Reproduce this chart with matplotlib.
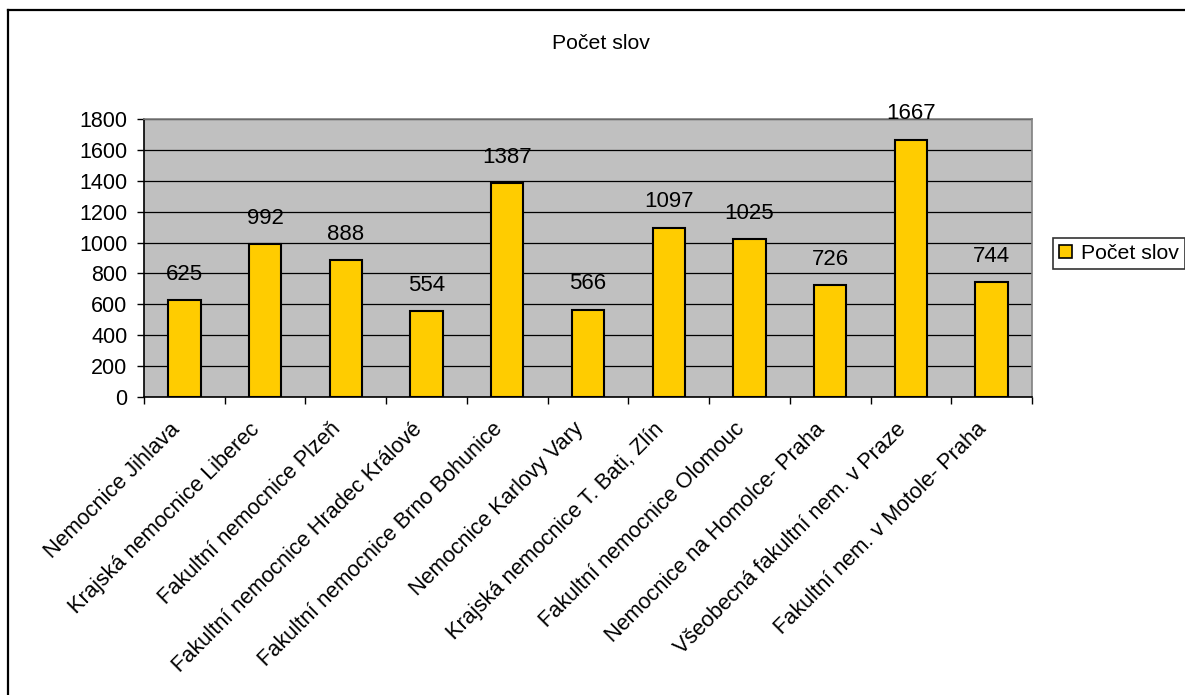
import matplotlib
matplotlib.use("Agg")
import matplotlib.pyplot as plt
import matplotlib.transforms as mtransforms
from matplotlib.lines import Line2D
from matplotlib.patches import Patch

plt.rcParams["font.family"] = ["Liberation Sans", "DejaVu Sans"]

title = "Počet slov"
series_name = "Počet slov"
hospitals = [
    "Nemocnice Jihlava",
    "Krajská nemocnice Liberec",
    "Fakultní nemocnice Plzeň",
    "Fakultní nemocnice Hradec Králové",
    "Fakultní nemocnice Brno Bohunice",
    "Nemocnice Karlovy Vary",
    "Krajská nemocnice T. Bati, Zlín",
    "Fakultní nemocnice Olomouc",
    "Nemocnice na Homolce- Praha",
    "Všeobecná fakultní nem. v Praze",
    "Fakultní nem. v Motole- Praha",
]
word_counts = [625, 992, 888, 554, 1387, 566, 1097, 1025, 726, 1667, 744]
y_ticks = [0, 200, 400, 600, 800, 1000, 1200, 1400, 1600, 1800]

W, H = 1185, 695
fig = plt.figure(figsize=(W / 100, H / 100), dpi=100)
fig.patch.set_facecolor("white")

# outer chart frame (runs off the right and bottom edges)
fig.add_artist(Line2D([8 / W, 1.0], [1 - 9.5 / H, 1 - 9.5 / H], color="black", lw=1.6,
                      transform=fig.transFigure))
fig.add_artist(Line2D([7.5 / W, 7.5 / W], [0.0, 1 - 9.5 / H], color="black", lw=1.6,
                      transform=fig.transFigure))

ax = fig.add_axes([144 / W, 1 - 397 / H, (1032 - 144) / W, (397 - 119) / H])
ax.set_facecolor("#C0C0C0")

x = list(range(len(hospitals)))
ax.set_axisbelow(True)
ax.yaxis.grid(True, color="black", lw=0.9)
bars = ax.bar(x, word_counts, width=0.4, color="#FFCC00", edgecolor="black", lw=1.5,
              label=series_name, zorder=3)

for xi, v in zip(x, word_counts):
    ax.annotate(f"{v}", xy=(xi, v), xytext=(0, 14.5), textcoords="offset points",
                ha="center", va="baseline", fontsize=16)

ax.set_xlim(-0.5, len(hospitals) - 0.5)
ax.set_ylim(0, 1800)
ax.set_yticks(y_ticks)
ax.set_yticklabels([str(t) for t in y_ticks], fontsize=15.5)
ax.tick_params(axis="y", length=5, width=1, pad=7, color="black")

ax.set_xticks(x)
ax.set_xticks([i - 0.5 for i in range(len(hospitals) + 1)], minor=True)
ax.set_xticklabels(hospitals, fontsize=15.7, rotation=45, ha="right", va="center",
                   rotation_mode="anchor")
ax.tick_params(axis="x", which="major", length=0, pad=21)
ax.tick_params(axis="x", which="minor", length=5, width=1, color="black")
shift = mtransforms.ScaledTranslation(-8 / 100, 0, fig.dpi_scale_trans)
for lbl in ax.get_xticklabels():
    lbl.set_transform(lbl.get_transform() + shift)

for side in ("top", "right"):
    ax.spines[side].set_color("#808080")
    ax.spines[side].set_linewidth(1.2)
for side in ("left", "bottom"):
    ax.spines[side].set_color("black")
    ax.spines[side].set_linewidth(1.2)

fig.text(601 / W, 1 - 49 / H, title, ha="center", va="baseline", fontsize=15.3)

handle = Patch(facecolor="#FFCC00", edgecolor="black", lw=1.2)
leg = fig.legend([handle], [series_name], loc="center left",
                 bbox_to_anchor=(1053 / W, 1 - 253.5 / H), fontsize=15.3, frameon=True,
                 fancybox=False, edgecolor="black", handlelength=0.6, handleheight=0.6,
                 handletextpad=0.4, borderpad=0.3, borderaxespad=0)
leg.get_frame().set_linewidth(1.2)

fig.savefig("out.png", dpi=100, facecolor="white")
